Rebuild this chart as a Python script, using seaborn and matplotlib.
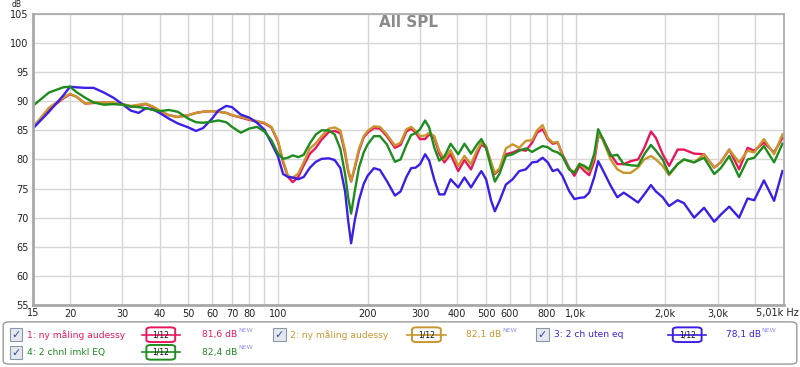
import pandas as pd
import matplotlib.pyplot as plt
import seaborn as sns
from matplotlib.patches import FancyBboxPatch, Rectangle
from matplotlib.lines import Line2D

# frekvenser (Hz) og målinger (dB)
frekvens = [15, 17, 19, 20, 21, 22.5, 24, 26, 28, 30, 32, 34, 36, 38, 40, 43, 46, 50, 53, 56,
            60, 63, 67, 70, 75, 80, 85, 90, 95, 100, 104, 108, 112, 117, 122, 128, 134, 140, 148, 155,
            162, 168, 172, 176, 181, 187, 194, 200, 210, 220, 232, 247, 258, 270, 280, 290, 300, 312, 322, 335,
            348, 362, 380, 403, 423, 445, 465, 482, 500, 520, 535, 555, 583, 614, 646, 680, 714, 742, 774, 806,
            837, 870, 902, 950, 990, 1030, 1070, 1110, 1155, 1190, 1230, 1310, 1380, 1450, 1530, 1620, 1700, 1790, 1860, 1960,
            2060, 2200, 2310, 2500, 2700, 2920, 3070, 3280, 3540, 3780, 3980, 4290, 4640, 4950]

maling_1 = [85.5, 88.6, 90.5, 91.2, 90.8, 89.6, 89.7, 89.8, 89.7, 89.5, 89.1, 89.3, 89.5, 89.0, 88.3, 87.6, 87.3, 87.6, 88.0, 88.2,
            88.3, 88.2, 88.0, 87.6, 87.2, 86.8, 86.5, 86.2, 85.5, 83.0, 79.5, 77.0, 76.1, 77.0, 79.0, 81.0, 82.0, 83.4, 84.7, 84.9,
            84.5, 81.0, 78.0, 76.2, 78.5, 81.5, 83.8, 84.6, 85.4, 85.3, 84.0, 82.0, 82.5, 84.8, 85.3, 84.6, 83.5, 83.5, 84.3, 83.7,
            81.0, 79.5, 80.9, 78.0, 79.9, 78.3, 80.8, 82.6, 82.0, 79.2, 77.5, 78.3, 80.9, 81.2, 81.7, 81.5, 82.9, 84.6, 85.2, 83.5,
            82.7, 82.9, 80.9, 78.6, 77.2, 78.9, 78.0, 77.3, 79.7, 84.0, 83.7, 80.9, 79.2, 79.2, 79.7, 80.0, 82.0, 84.8, 83.7, 80.9,
            78.9, 81.7, 81.7, 81.0, 80.9, 78.6, 79.5, 81.7, 78.3, 82.0, 81.5, 82.9, 81.2, 83.7]

maling_2 = [85.5, 88.9, 90.6, 91.3, 90.8, 89.6, 89.8, 89.8, 89.8, 89.5, 89.2, 89.4, 89.6, 89.1, 88.4, 87.6, 87.3, 87.6, 88.0, 88.2,
            88.3, 88.2, 88.0, 87.6, 87.3, 86.9, 86.6, 86.3, 85.6, 83.2, 79.8, 77.2, 76.8, 77.6, 79.5, 81.9, 82.8, 84.0, 85.3, 85.5,
            85.0, 81.5, 78.2, 76.3, 78.8, 81.8, 84.0, 84.9, 85.7, 85.6, 84.3, 82.4, 82.9, 85.2, 85.6, 84.9, 84.0, 84.1, 84.6, 84.0,
            81.5, 80.0, 81.6, 78.9, 80.6, 79.2, 81.5, 82.9, 82.3, 79.5, 77.7, 78.5, 81.9, 82.6, 82.0, 83.2, 83.3, 85.0, 85.9, 83.7,
            82.9, 83.0, 80.6, 78.4, 77.8, 79.3, 78.6, 78.0, 80.5, 84.3, 83.5, 80.0, 78.3, 77.7, 77.7, 78.6, 80.0, 80.6, 80.0, 78.9,
            77.3, 79.2, 80.0, 79.5, 80.9, 78.6, 79.5, 81.7, 79.5, 81.5, 81.2, 83.5, 80.9, 84.3]

maling_3 = [85.3, 88.2, 91.0, 92.5, 92.4, 92.3, 92.3, 91.5, 90.6, 89.5, 88.4, 88.0, 88.8, 88.6, 88.0, 87.0, 86.2, 85.5, 84.9, 85.4,
            87.0, 88.4, 89.2, 89.0, 87.7, 87.2, 86.3, 85.1, 82.8, 80.5, 77.5, 77.0, 76.9, 76.6, 77.0, 78.6, 79.6, 80.1, 80.2, 79.9,
            78.5, 74.5, 69.5, 65.6, 69.5, 73.0, 75.8, 77.2, 78.5, 78.2, 76.3, 73.8, 74.5, 77.0, 78.5, 78.6, 79.2, 80.9, 79.8, 76.5,
            74.0, 74.0, 76.6, 75.2, 76.9, 75.2, 76.8, 78.0, 76.6, 72.9, 71.1, 72.9, 75.7, 76.6, 78.0, 78.3, 79.5, 79.6, 80.3, 79.5,
            78.0, 78.3, 77.2, 74.6, 73.2, 73.4, 73.5, 74.3, 77.0, 79.7, 78.3, 75.5, 73.5, 74.3, 73.5, 72.6, 74.0, 75.6, 74.5, 73.5,
            72.0, 73.0, 72.5, 70.0, 71.7, 69.3, 70.5, 71.9, 70.0, 73.3, 73.0, 76.4, 72.9, 78.0]

maling_4 = [89.2, 91.5, 92.4, 92.5, 91.6, 90.6, 89.8, 89.4, 89.5, 89.4, 89.1, 89.0, 88.8, 88.5, 88.3, 88.5, 88.2, 87.0, 86.4, 86.3,
            86.5, 86.7, 86.4, 85.6, 84.6, 85.3, 85.6, 84.8, 83.3, 81.0, 80.1, 80.3, 80.7, 80.4, 80.8, 82.8, 84.3, 85.0, 85.0, 84.3,
            81.8, 77.5, 73.5, 70.7, 74.5, 78.6, 81.2, 82.6, 84.0, 84.0, 82.6, 79.6, 80.0, 82.5, 84.2, 84.5, 85.2, 86.7, 85.5, 82.0,
            79.8, 80.5, 82.7, 80.9, 82.7, 81.0, 82.5, 83.5, 82.0, 78.6, 76.2, 77.6, 80.6, 80.9, 81.5, 81.9, 81.3, 81.8, 82.3, 82.1,
            81.5, 81.2, 80.6, 78.3, 77.7, 79.2, 78.9, 78.3, 81.0, 85.2, 83.7, 80.6, 80.8, 79.2, 79.0, 78.9, 80.9, 82.5, 81.5, 80.0,
            77.5, 79.2, 80.0, 79.5, 80.3, 77.5, 78.5, 80.6, 77.0, 80.0, 80.3, 82.3, 79.5, 82.7]

navn = ["1: ny måling audessy", "2: ny måling audessy", "3: 2 ch uten eq", "4: 2 chnl imkl EQ"]
snitt = ["81,6 dB", "82,1 dB", "78,1 dB", "82,4 dB"]
farger = ["#e8175d", "#c9962d", "#3c1fe6", "#1e8c1e"]

x_ticks = [20, 30, 40, 50, 60, 70, 80, 90, 100, 200, 300, 400, 500, 600, 700, 800, 900, 1000, 2000, 3000, 4000]
x_labels = ["20", "30", "40", "50", "60", "70", "80", "", "100", "200", "300", "400", "500", "600", "",
            "800", "", "1,0k", "2,0k", "3,0k", ""]
y_ticks = list(range(55, 106, 5))

df = pd.concat([pd.DataFrame({"Hz": frekvens, "dB": v, "serie": n})
                for n, v in zip(navn, [maling_1, maling_2, maling_3, maling_4])])

fig = plt.figure(figsize=(8, 3.67), dpi=100)
ax = fig.add_axes([0.041, 0.169, 0.939, 0.793])

sns.lineplot(data=df, x="Hz", y="dB", hue="serie", palette=farger, estimator=None,
             linewidth=1.7, legend=False, ax=ax)

ax.set_xscale("log")
ax.set_xlim(15, 5010)
ax.set_ylim(55, 105)
ax.set_xticks(x_ticks)
ax.set_xticklabels(x_labels)
ax.xaxis.set_minor_locator(plt.NullLocator())
ax.set_yticks(y_ticks)
ax.set_yticklabels([str(t) for t in y_ticks])
ax.tick_params(length=0, labelsize=7, colors="#222222", pad=3)
ax.set_xlabel("")
ax.set_ylabel("")
ax.grid(True, color="#d6d6d6", linewidth=1)
ax.set_axisbelow(True)
for side, s in ax.spines.items():
    s.set_color("#a8a8a8")
    s.set_linewidth(2 if side in ("left", "bottom") else 1.2)

ax.text(0.5, 0.995, "All SPL", transform=ax.transAxes, ha="center", va="top",
        fontsize=11, fontweight="bold", color="#8a8a8a")
fig.text(0.014, 1.0, "dB", fontsize=5.5, color="#222222", va="top")
fig.text(0.998, 0.147, "5,01k Hz", fontsize=7, color="#222222", ha="right", va="center")
fig.text(0.041, 0.147, "15", fontsize=7, color="#222222", ha="center", va="center")

# forklaringsboks
fig.patches.append(FancyBboxPatch((0.004, 0.008), 0.992, 0.115, boxstyle="round,pad=0,rounding_size=0.008",
                                  transform=fig.transFigure, facecolor="white", edgecolor="#9a9a9a", linewidth=1))

plassering = [(0.012, 0.088), (0.341, 0.088), (0.670, 0.088), (0.012, 0.040)]
ikon_x = [0.201, 0.533, 0.859, 0.201]
db_x = [0.254, 0.584, 0.908, 0.254]
for i in range(4):
    x0, y0 = plassering[i]
    fig.patches.append(Rectangle((x0, y0 - 0.018), 0.016, 0.036, transform=fig.transFigure,
                                 facecolor="#e4e8ee", edgecolor="#8a96a8", linewidth=0.8))
    fig.text(x0 + 0.008, y0 - 0.002, "✓", fontsize=8, color="#2b4f9a", ha="center", va="center", fontweight="bold")
    fig.text(x0 + 0.022, y0, navn[i], fontsize=6.6, color=farger[i], va="center")
    cx = ikon_x[i]
    fig.add_artist(Line2D([cx - 0.024, cx + 0.024], [y0, y0], color=farger[i], linewidth=1.2,
                          transform=fig.transFigure))
    fig.patches.append(FancyBboxPatch((cx - 0.018, y0 - 0.02), 0.036, 0.04,
                                      boxstyle="round,pad=0,rounding_size=0.006", transform=fig.transFigure,
                                      facecolor="white", edgecolor=farger[i], linewidth=1.4))
    fig.text(cx, y0, "1/12", fontsize=5.5, color="#111111", ha="center", va="center")
    fig.text(db_x[i] + 0.043, y0, snitt[i], fontsize=6.6, color=farger[i], ha="right", va="center")
    fig.text(db_x[i] + 0.044, y0 + 0.012, "NEW", fontsize=4.5, color="#9090ee", ha="left", va="center")

fig.savefig("out.png", dpi=100)
